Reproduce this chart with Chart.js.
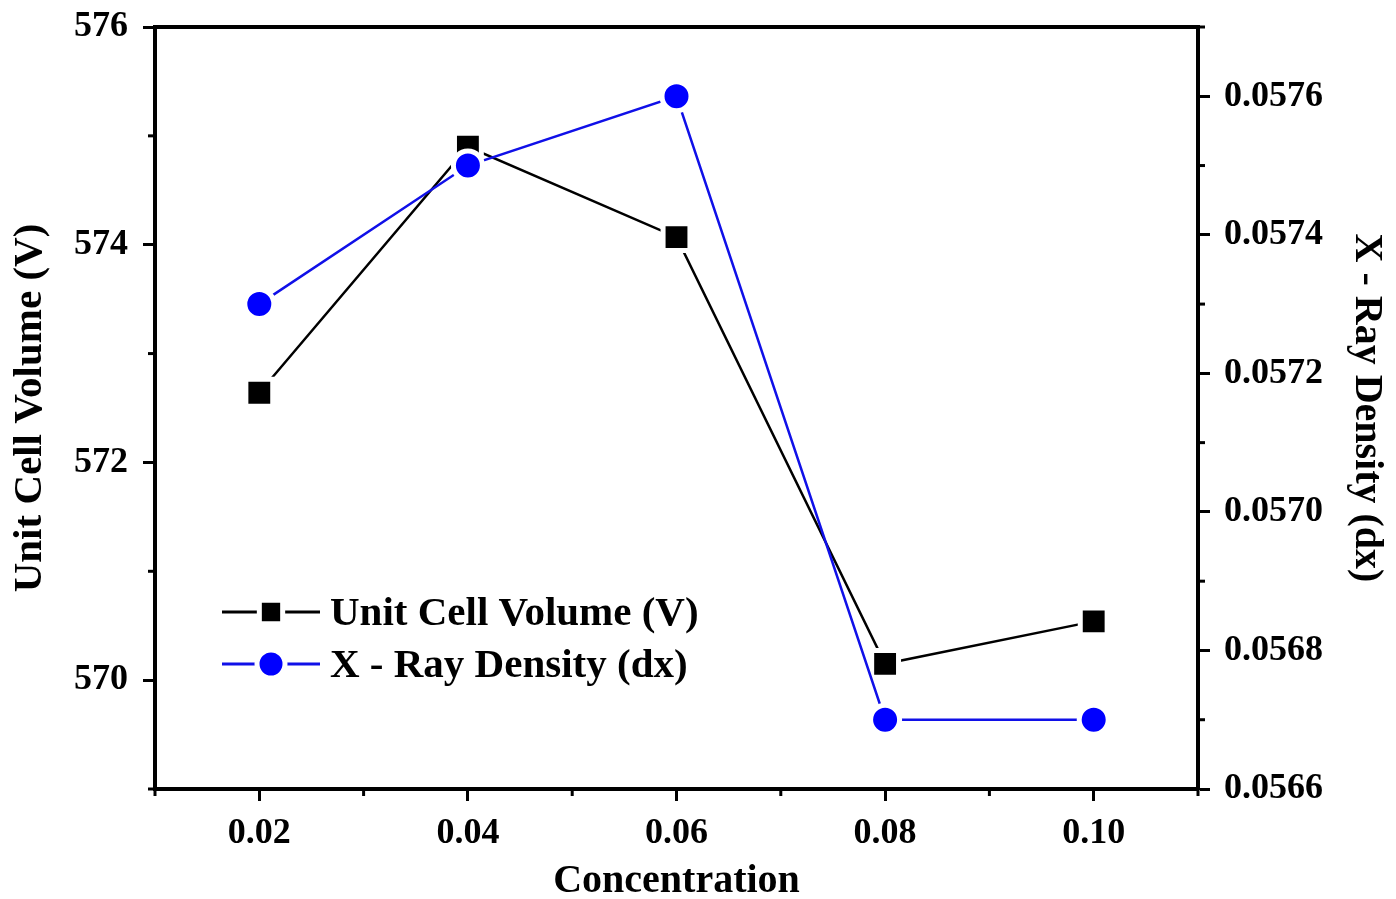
<!DOCTYPE html>
<html>
<head>
<meta charset="utf-8">
<script src="https://cdn.jsdelivr.net/npm/chart.js@4.4.1/dist/chart.umd.min.js"></script>
<style>
  body { margin: 0; background: #fff; }
  #wrap { width: 1396px; height: 899px; }
</style>
</head>
<body>
<div id="wrap"><canvas id="chart"></canvas></div>
<script>
const concentration = [0.02, 0.04, 0.06, 0.08, 0.10];
const unitCellVolume = [572.64, 574.90, 574.07, 570.15, 570.54];
const xRayDensity = [0.0573, 0.0575, 0.0576, 0.0567, 0.0567];

const xTicks = [0.02, 0.04, 0.06, 0.08, 0.10];
const volumeTicks = [570, 572, 574, 576];
const densityTicks = [0.0566, 0.0568, 0.0570, 0.0572, 0.0574, 0.0576];

const FONT = "'Liberation Serif', 'Times New Roman', serif";
Chart.defaults.color = '#000';
Chart.defaults.font.family = FONT;
Chart.defaults.font.weight = 'bold';

// fixed box sizes so the plot area sits where the original has it
const fixSize = (w, h) => (scale) => {
  if (w != null) scale.width = w;
  if (h != null) scale.height = h;
  scale.paddingTop = 0;
  scale.paddingBottom = 0;
  scale.paddingLeft = 0;
  scale.paddingRight = 0;
};
const useTicks = (list) => (scale) => {
  scale.ticks = list.map((v) => ({ value: v }));
};

// top frame line + short minor ticks halfway between labelled ones
const frameAndMinor = {
  id: 'frameAndMinor',
  afterDraw(chart) {
    const { ctx, chartArea: a, scales } = chart;
    ctx.save();
    ctx.strokeStyle = '#000';
    ctx.lineWidth = 4;
    ctx.beginPath();
    ctx.moveTo(a.left - 2, a.top);
    ctx.lineTo(a.right + 2, a.top);
    ctx.stroke();

    ctx.lineWidth = 3;
    const minor = (scale, majors, cb) => {
      const half = (majors[1] - majors[0]) / 2;
      const n = Math.round((scale.max - scale.min) / half);
      for (let i = 0; i <= n; i++) {
        const v = scale.min + i * half;
        if (majors.some((m) => Math.abs(m - v) < half / 10)) continue;
        cb(scale.getPixelForValue(v));
      }
    };
    const len = 7;
    minor(scales.x, xTicks, (px) => {
      ctx.beginPath(); ctx.moveTo(px, a.bottom); ctx.lineTo(px, a.bottom + len); ctx.stroke();
    });
    minor(scales.y, volumeTicks, (py) => {
      ctx.beginPath(); ctx.moveTo(a.left, py); ctx.lineTo(a.left - len, py); ctx.stroke();
    });
    minor(scales.y1, densityTicks, (py) => {
      ctx.beginPath(); ctx.moveTo(a.right, py); ctx.lineTo(a.right + len, py); ctx.stroke();
    });
    ctx.restore();
  }
};

// legend drawn inside the plot, lower left
const innerLegend = {
  id: 'innerLegend',
  afterDraw(chart) {
    const { ctx, chartArea: a } = chart;
    ctx.save();
    chart.data.datasets.forEach((ds, i) => {
      const y = a.top + 585 + i * 52;
      const x0 = a.left + 67, x1 = a.left + 165, xm = (x0 + x1) / 2;
      ctx.strokeStyle = ds.borderColor;
      ctx.lineWidth = 3;
      ctx.beginPath(); ctx.moveTo(x0, y); ctx.lineTo(x1, y); ctx.stroke();
      ctx.fillStyle = ds.pointBackgroundColor;
      ctx.strokeStyle = '#fff';
      ctx.lineWidth = 5;
      Chart.helpers.drawPoint(ctx, {
        pointStyle: ds.pointStyle,
        radius: ds.pointStyle === 'rect' ? 16.5 : 14,
        borderWidth: 5,
        rotation: 0
      }, xm, y);
      ctx.fillStyle = '#000';
      ctx.font = 'bold 41px ' + FONT;
      ctx.textBaseline = 'middle';
      ctx.fillText(ds.label, a.left + 175, y + 2);
    });
    ctx.restore();
  }
};

const tickGrid = { drawOnChartArea: false, tickLength: 12, tickWidth: 3, tickColor: '#000' };
const axisBorder = { color: '#000', width: 4 };

new Chart(document.getElementById('chart'), {
  type: 'line',
  data: {
    datasets: [
      {
        label: 'Unit Cell Volume (V)',
        data: concentration.map((c, i) => ({ x: c, y: unitCellVolume[i] })),
        yAxisID: 'y',
        borderColor: '#000',
        borderWidth: 2.5,
        pointStyle: 'rect',
        pointRadius: 19,
        pointBackgroundColor: '#000',
        pointBorderColor: '#fff',
        pointBorderWidth: 5,
        order: 1
      },
      {
        label: 'X - Ray Density (dx)',
        data: concentration.map((c, i) => ({ x: c, y: xRayDensity[i] })),
        yAxisID: 'y1',
        borderColor: '#1010e8',
        borderWidth: 2.5,
        pointStyle: 'circle',
        pointRadius: 14.5,
        pointBackgroundColor: '#0000ff',
        pointBorderColor: '#fff',
        pointBorderWidth: 5,
        order: 0
      }
    ]
  },
  options: {
    responsive: true,
    maintainAspectRatio: false,
    animation: false,
    events: [],
    layout: { padding: { top: 27, left: 0, right: 0, bottom: 0 } },
    plugins: { legend: { display: false }, tooltip: { enabled: false } },
    scales: {
      x: {
        type: 'linear',
        min: 0.01,
        max: 0.11,
        afterBuildTicks: useTicks(xTicks),
        afterFit: fixSize(null, 110),
        grid: tickGrid,
        border: axisBorder,
        ticks: { font: { size: 36 }, padding: 11, maxRotation: 0, autoSkip: false,
                 callback: (v) => v.toFixed(2) },
        title: { display: true, text: 'Concentration', font: { size: 40, lineHeight: 0.85 }, padding: 0 }
      },
      y: {
        position: 'left',
        min: 569,
        max: 576,
        afterBuildTicks: useTicks(volumeTicks),
        afterFit: fixSize(155, null),
        grid: tickGrid,
        border: axisBorder,
        ticks: { font: { size: 36 }, padding: 15, autoSkip: false, callback: (v) => String(v) },
        title: { display: true, text: 'Unit Cell Volume (V)', font: { size: 41, lineHeight: 1 },
                 padding: { top: 10, bottom: 0 } }
      },
      y1: {
        position: 'right',
        min: 0.0566,
        max: 0.0577,
        afterBuildTicks: useTicks(densityTicks),
        afterFit: fixSize(198, null),
        grid: tickGrid,
        border: axisBorder,
        ticks: { font: { size: 36 }, padding: 14, autoSkip: false, callback: (v) => v.toFixed(4) },
        title: { display: true, text: 'X - Ray Density (dx)', font: { size: 40, lineHeight: 1 },
                 padding: { top: 10, bottom: 0 } }
      }
    }
  },
  plugins: [frameAndMinor, innerLegend]
});
</script>
</body>
</html>
